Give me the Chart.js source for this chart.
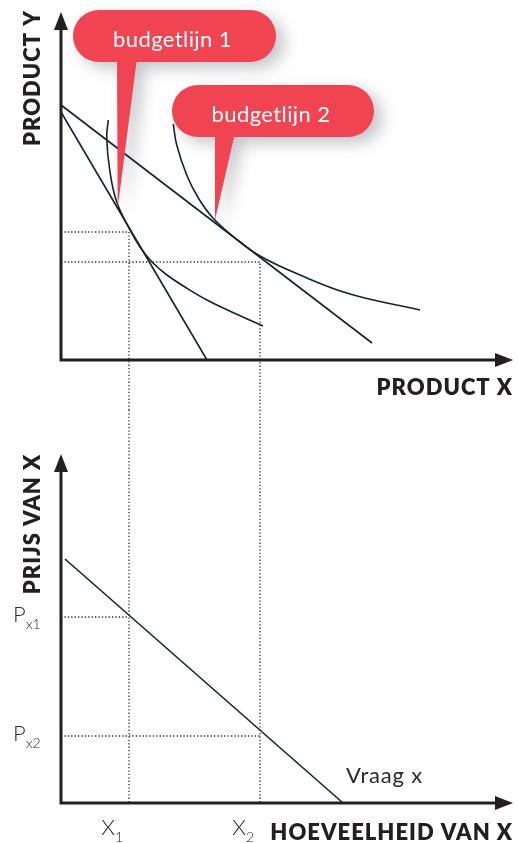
<!DOCTYPE html>
<html>
<head>
<meta charset="utf-8">
<script src="https://cdn.jsdelivr.net/npm/chart.js@4/dist/chart.umd.min.js"></script>
<style>
body { margin: 0; background: #fff; }
#wrap { position: relative; width: 518px; height: 843px; }
.box { position: absolute; left: 0; width: 518px; }
</style>
</head>
<body>
<div id="wrap">
  <div class="box" style="top:0;height:410px"><canvas id="topChart"></canvas></div>
  <div class="box" style="top:410px;height:433px"><canvas id="bottomChart"></canvas></div>
</div>
<script>
// bovenste grafiek: product X tegen product Y
const budget1 = [{x: 0, y: 24.8}, {x: 14.6, y: 0}];
const budget2 = [{x: 0, y: 25.5}, {x: 31.1, y: 1.7}];
const curve1 = [
  {x: 4.73, y: 24.0}, {x: 4.57, y: 22.2}, {x: 4.9, y: 18.8}, {x: 5.57, y: 15.8},
  {x: 6.9, y: 13.0}, {x: 7.9, y: 11.3}, {x: 9.1, y: 9.8}, {x: 10.6, y: 8.5},
  {x: 12.4, y: 7.3}, {x: 14.6, y: 6.0}, {x: 17.3, y: 4.7}, {x: 20.2, y: 3.4}
];
const curve2 = [
  {x: 11.23, y: 23.6}, {x: 11.57, y: 21.5}, {x: 12.57, y: 18.5}, {x: 13.73, y: 16.2},
  {x: 15.2, y: 14.2}, {x: 17.4, y: 12.2}, {x: 19.9, y: 10.4}, {x: 23.9, y: 8.5},
  {x: 28.9, y: 6.6}, {x: 35.9, y: 5.0}
];
const optimumX = [6.8, 19.9];
const optimumY = [12.8, 9.8];
const budgetLabels = ["budgetlijn 1", "budgetlijn 2"];
const budgetTips = [{x: 5.67, y: 15.2}, {x: 15.4, y: 14.0}];

// onderste grafiek: vraag naar x
const demand = [{x: 0.4, y: 24.4}, {x: 28.2, y: 0}];
const priceLevels = [18.6, 6.7];
const priceSubs = ["x1", "x2"];
const qtySubs = ["1", "2"];

const INK = "#231f20";
const LINE = "#16232e";
const RED = "#f04452";
const BOLD = "800 22px Lato";

function lineSet(data, dotted) {
  return {
    data: data,
    showLine: true,
    borderColor: dotted ? "#2e2e2e" : LINE,
    borderWidth: dotted ? 1.3 : 1.6,
    borderDash: dotted ? [1.3, 2.1] : [],
    pointRadius: 0,
    tension: 0.4,
    fill: false
  };
}

function arrow(ctx, x, y, dir) {
  ctx.beginPath();
  if (dir === "up") {
    ctx.moveTo(x, y); ctx.lineTo(x - 7, y + 18); ctx.lineTo(x + 7, y + 18);
  } else {
    ctx.moveTo(x, y); ctx.lineTo(x - 18, y - 7); ctx.lineTo(x - 18, y + 7);
  }
  ctx.closePath();
  ctx.fill();
}

function drawAxes(chart, xEnd, yEnd) {
  const ctx = chart.ctx;
  const sx = chart.scales.x, sy = chart.scales.y;
  const ox = sx.getPixelForValue(0), oy = sy.getPixelForValue(0);
  const tx = sx.getPixelForValue(xEnd), ty = sy.getPixelForValue(yEnd);
  ctx.save();
  ctx.strokeStyle = INK;
  ctx.fillStyle = INK;
  ctx.lineWidth = 3;
  ctx.beginPath();
  ctx.moveTo(ox, ty + 12); ctx.lineTo(ox, oy); ctx.lineTo(tx - 12, oy);
  ctx.stroke();
  arrow(ctx, ox, ty, "up");
  arrow(ctx, tx, oy, "right");
  ctx.restore();
}

function vertTitle(ctx, text, x, y) {
  ctx.save();
  ctx.translate(x, y);
  ctx.rotate(-Math.PI / 2);
  ctx.textAlign = "center";
  ctx.textBaseline = "alphabetic";
  ctx.fillText(text, 0, 0);
  ctx.restore();
}

const topPlugin = {
  id: "topDecor",
  afterDatasetsDraw(chart) {
    const ctx = chart.ctx;
    const sx = chart.scales.x, sy = chart.scales.y;
    drawAxes(chart, 45.2, 34.8);

    ctx.save();
    ctx.fillStyle = INK;
    ctx.font = BOLD;
    ctx.letterSpacing = "1px";
    vertTitle(ctx, "PRODUCT Y", 40, 78);
    ctx.textAlign = "right";
    ctx.fillText("PRODUCT X", 513, 395);
    ctx.restore();

    // tekstballonnen
    const boxes = [
      {left: 73, top: 10, w: 203, h: 52, base: 117},
      {left: 172, top: 85, w: 202, h: 52, base: 215}
    ];
    boxes.forEach((b, i) => {
      const tipX = sx.getPixelForValue(budgetTips[i].x);
      const tipY = sy.getPixelForValue(budgetTips[i].y);
      ctx.save();
      ctx.fillStyle = RED;
      ctx.shadowColor = "rgba(60,60,75,0.3)";
      ctx.shadowBlur = 16;
      ctx.shadowOffsetX = 8;
      ctx.shadowOffsetY = 6;
      ctx.beginPath();
      ctx.roundRect(b.left, b.top, b.w, b.h, b.h / 2);
      ctx.moveTo(b.base, b.top + b.h - 4);
      ctx.lineTo(b.base + 20, b.top + b.h - 4);
      ctx.lineTo(tipX, tipY);
      ctx.closePath();
      ctx.fill();
      ctx.restore();

      ctx.save();
      ctx.fillStyle = "#fff";
      ctx.font = "400 22px Lato";
      ctx.letterSpacing = "0.4px";
      ctx.textAlign = "center";
      ctx.fillText(budgetLabels[i], b.left + b.w / 2 - 2, b.top + 37);
      ctx.restore();
    });
  }
};

const bottomPlugin = {
  id: "bottomDecor",
  afterDatasetsDraw(chart) {
    const ctx = chart.ctx;
    const sx = chart.scales.x, sy = chart.scales.y;
    drawAxes(chart, 45.2, 34.9);

    ctx.save();
    ctx.fillStyle = INK;
    ctx.font = BOLD;
    ctx.letterSpacing = "1px";
    vertTitle(ctx, "PRIJS VAN X", 40, 114);
    ctx.textAlign = "right";
    ctx.fillText("HOEVEELHEID VAN X", 513, 430);
    ctx.restore();

    ctx.save();
    ctx.fillStyle = "#2a2a2a";
    priceLevels.forEach((p, i) => {
      const y = sy.getPixelForValue(p);
      ctx.font = "300 22px Lato";
      ctx.fillText("P", 13, y + 4.5);
      ctx.font = "300 14px Lato";
      ctx.fillText(priceSubs[i], 26, y + 12);
    });
    optimumX.forEach((q, i) => {
      const x = sx.getPixelForValue(q);
      const oy = sy.getPixelForValue(0);
      ctx.font = "300 22px Lato";
      ctx.textAlign = "center";
      ctx.fillText("X", x - 21, oy + 32);
      ctx.font = "300 14px Lato";
      ctx.textAlign = "left";
      ctx.fillText(qtySubs[i], x - 14, oy + 39);
    });
    ctx.font = "400 22px Lato";
    ctx.letterSpacing = "0.8px";
    ctx.fillText("Vraag x", sx.getPixelForValue(28.5), sy.getPixelForValue(2.0));
    ctx.restore();
  }
};

function baseOptions(yMin, yMax) {
  return {
    responsive: true,
    maintainAspectRatio: false,
    animation: false,
    layout: {padding: 0},
    plugins: {legend: {display: false}, tooltip: {enabled: false}},
    scales: {
      x: {type: "linear", min: -6.1, max: 45.7, display: false},
      y: {type: "linear", min: yMin, max: yMax, display: false}
    }
  };
}

const topSets = [];
optimumX.forEach((q, i) => {
  topSets.push(lineSet([{x: 0, y: optimumY[i]}, {x: q, y: optimumY[i]}, {x: q, y: -5}], true));
});
topSets.push(lineSet(budget1), lineSet(budget2), lineSet(curve1), lineSet(curve2));
topSets.forEach(d => { if (d.data.length < 4) d.tension = 0; });

new Chart(document.getElementById("topChart"), {
  type: "scatter",
  data: {datasets: topSets},
  options: baseOptions(-5, 36),
  plugins: [topPlugin]
});

const bottomSets = [];
optimumX.forEach((q, i) => {
  bottomSets.push(lineSet([{x: 0, y: priceLevels[i]}, {x: q, y: priceLevels[i]}], true));
  bottomSets.push(lineSet([{x: q, y: 39.3}, {x: q, y: 0}], true));
});
bottomSets.push(lineSet(demand));
bottomSets.forEach(d => { d.tension = 0; });

new Chart(document.getElementById("bottomChart"), {
  type: "scatter",
  data: {datasets: bottomSets},
  options: baseOptions(-4, 39.3),
  plugins: [bottomPlugin]
});
</script>
</body>
</html>
